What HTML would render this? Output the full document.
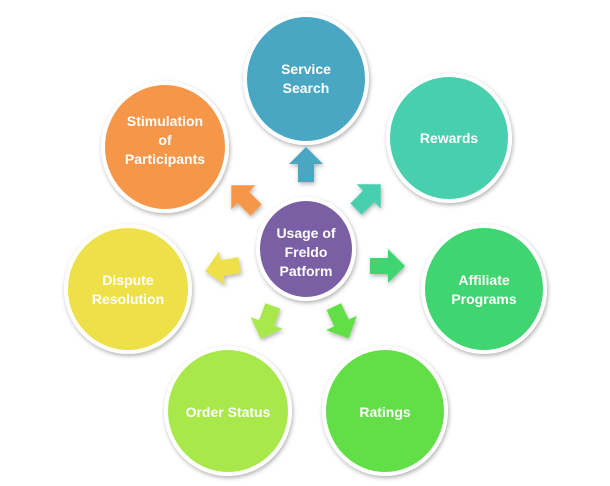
<!DOCTYPE html>
<html><head><style>
body{margin:0;background:#fff;}
svg{display:block;}
text{font-family:"Liberation Sans",sans-serif;font-weight:bold;fill:#fff;font-size:14px;text-anchor:middle;}
</style></head><body>
<svg width="610" height="486" viewBox="0 0 610 486">
<defs>
<filter id="sh" x="-20%" y="-20%" width="140%" height="140%"><feDropShadow dx="1" dy="2" stdDeviation="2" flood-color="#000" flood-opacity="0.3"/></filter>
<path id="ar" d="M0,-18 L17,-1 L8,-1 L8,17 L-8,17 L-8,-1 L-17,-1 Z"/>
</defs>
<g stroke="#fff" stroke-width="4" filter="url(#sh)">
<ellipse cx="306" cy="79" rx="61" ry="64" fill="#4aa7c4"/>
<ellipse cx="449" cy="138" rx="61" ry="63" fill="#47cfae"/>
<ellipse cx="165" cy="147" rx="62" ry="64" fill="#f5964a"/>
<ellipse cx="484" cy="289" rx="61" ry="63" fill="#40d571"/>
<ellipse cx="128" cy="289" rx="62" ry="63" fill="#ede049"/>
<ellipse cx="228" cy="411" rx="62" ry="63" fill="#a9e84b"/>
<ellipse cx="385" cy="411" rx="61" ry="63" fill="#62de46"/>
<ellipse cx="306" cy="249" rx="48" ry="50" fill="#7a5fa4"/>
</g>
<g filter="url(#sh)">
<use href="#ar" fill="#4aa7c4" transform="translate(306,165)"/>
<use href="#ar" fill="#47cfae" transform="translate(368,197) rotate(45)"/>
<use href="#ar" fill="#f5964a" transform="translate(244,198) rotate(-45)"/>
<use href="#ar" fill="#40d571" transform="translate(387,266) rotate(90)"/>
<use href="#ar" fill="#ede049" transform="translate(223,268) rotate(-100)"/>
<use href="#ar" fill="#a9e84b" transform="translate(267,322) rotate(-160)"/>
<use href="#ar" fill="#62de46" transform="translate(341,322) rotate(155)"/>
</g>
<text x="306" y="74">Service</text><text x="306" y="93">Search</text>
<text x="449" y="143">Rewards</text>
<text x="165" y="126">Stimulation</text><text x="165" y="145">of</text><text x="165" y="164">Participants</text>
<text x="484" y="285">Affiliate</text><text x="484" y="304">Programs</text>
<text x="128" y="285">Dispute</text><text x="128" y="304">Resolution</text>
<text x="228" y="417">Order Status</text>
<text x="385" y="417">Ratings</text>
<g style="font-size:16px"><text x="306" y="238">Usage of</text><text x="306" y="257">Freldo</text><text x="306" y="276">Patform</text></g>
</svg>
</body></html>
